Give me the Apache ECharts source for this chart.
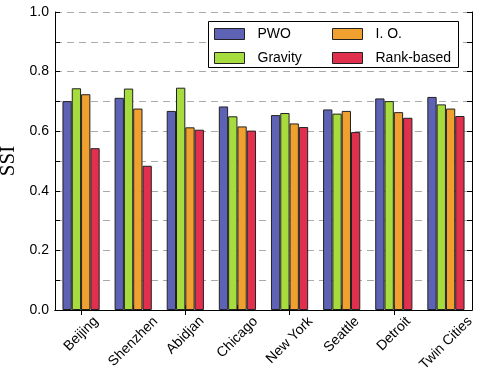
<!DOCTYPE html>
<html>
<head>
<meta charset="utf-8">
<script src="https://cdn.jsdelivr.net/npm/echarts@6/dist/echarts.min.js"></script>
<style>html,body{margin:0;padding:0;background:#fff;}#c{width:491px;height:383px;}</style>
</head>
<body>
<div id="c"></div>
<script>
const categories = ['Beijing', 'Shenzhen', 'Abidjan', 'Chicago', 'New York', 'Seattle', 'Detroit', 'Twin Cities'];
const seriesNames = ['PWO', 'Gravity', 'I. O.', 'Rank-based'];
const pwo = [0.701, 0.712, 0.668, 0.683, 0.654, 0.673, 0.710, 0.715];
const gravity = [0.744, 0.743, 0.746, 0.650, 0.661, 0.659, 0.701, 0.690];
const io = [0.724, 0.676, 0.613, 0.616, 0.626, 0.668, 0.664, 0.676];
const rank = [0.543, 0.484, 0.605, 0.602, 0.614, 0.597, 0.645, 0.651];
const yTicks = [0.0, 0.2, 0.4, 0.6, 0.8, 1.0];

const colors = ['#5d62b5', '#a6dc3d', '#f0a02e', '#e1304e'];
const FONT = 'Liberation Sans';
const ctx = document.createElement('canvas').getContext('2d');
ctx.font = '14px "' + FONT + '"';
const rich = {};
categories.forEach((c, i) => {
  const w = ctx.measureText(c).width;
  const p = Math.round(w * 0.5);
  rich['l' + i] = { fontFamily: FONT, fontSize: 14, color: '#000', padding: [p, p, 0, 0] };
});

const chart = echarts.init(document.getElementById('c'), null, { renderer: 'canvas' });
const allData = [pwo, gravity, io, rank];
const series = allData.map((d, i) => ({
  name: seriesNames[i],
  type: 'bar',
  data: d,
  barWidth: 9.3,
  barGap: '0%',
  itemStyle: { color: colors[i], borderColor: '#222', borderWidth: 1 }
}));

chart.setOption({
  animation: false,
  backgroundColor: '#fff',
  grid: { left: 55, right: 19, top: 12, bottom: 73, containLabel: false, outerBoundsMode: 'none' },
  xAxis: [
    {
      type: 'category', data: categories, position: 'bottom',
      axisLine: { lineStyle: { color: '#000', width: 1 } },
      axisTick: { show: true, inside: true, alignWithLabel: true, length: 5, lineStyle: { color: '#000' } },
      axisLabel: {
        interval: 0, rotate: 45, align: 'center', verticalAlign: 'middle', margin: 9,
        formatter: (v) => '{l' + categories.indexOf(v) + '|' + v + '}',
        rich: rich
      }
    },
    {
      type: 'category', data: categories, position: 'top',
      axisLine: { lineStyle: { color: '#000', width: 1 } },
      axisTick: { show: true, inside: true, alignWithLabel: true, length: 5, lineStyle: { color: '#000' } },
      axisLabel: { show: false }
    }
  ],
  yAxis: [
    {
      type: 'value', min: 0, max: 1, interval: 0.1, position: 'left',
      name: 'SSI', nameLocation: 'middle', nameGap: 33,
      nameTextStyle: { fontFamily: 'Liberation Serif', fontSize: 21, color: '#000' },
      axisLine: { show: true, lineStyle: { color: '#000', width: 1 } },
      axisTick: { show: true, inside: true, length: 5, lineStyle: { color: '#000' } },
      axisLabel: {
        fontFamily: FONT, fontSize: 14, color: '#000', margin: 6,
        formatter: (v) => yTicks.some(t => Math.abs(t - v) < 1e-6) ? v.toFixed(1) : ''
      },
      splitLine: { show: true, lineStyle: { color: '#aaaaaa', type: [7, 5], width: 1 } }
    },
    {
      type: 'value', min: 0, max: 1, interval: 0.1, position: 'right',
      axisLine: { show: true, lineStyle: { color: '#000', width: 1 } },
      axisTick: { show: true, inside: true, length: 5, lineStyle: { color: '#000' } },
      axisLabel: { show: false },
      splitLine: { show: false }
    }
  ],
  legend: [
    {
      data: [seriesNames[0], seriesNames[1]], orient: 'vertical', left: 214, top: 27, padding: 0,
      itemWidth: 30, itemHeight: 11, itemGap: 10, icon: 'rect', z: 5,
      itemStyle: { borderColor: '#222', borderWidth: 1 },
      textStyle: { fontFamily: FONT, fontSize: 14, color: '#000', padding: [0, 0, 0, 8] }
    },
    {
      data: [seriesNames[2], seriesNames[3]], orient: 'vertical', left: 332, top: 27, padding: 0,
      itemWidth: 30, itemHeight: 11, itemGap: 10, icon: 'rect', z: 5,
      itemStyle: { borderColor: '#222', borderWidth: 1 },
      textStyle: { fontFamily: FONT, fontSize: 14, color: '#000', padding: [0, 0, 0, 8] }
    }
  ],
  graphic: [
    { type: 'rect', z: 3, shape: { x: 208.5, y: 21.5, width: 250, height: 46 }, style: { fill: '#fff', stroke: '#000', lineWidth: 1 } }
  ],
  series: series
});
</script>
</body>
</html>
